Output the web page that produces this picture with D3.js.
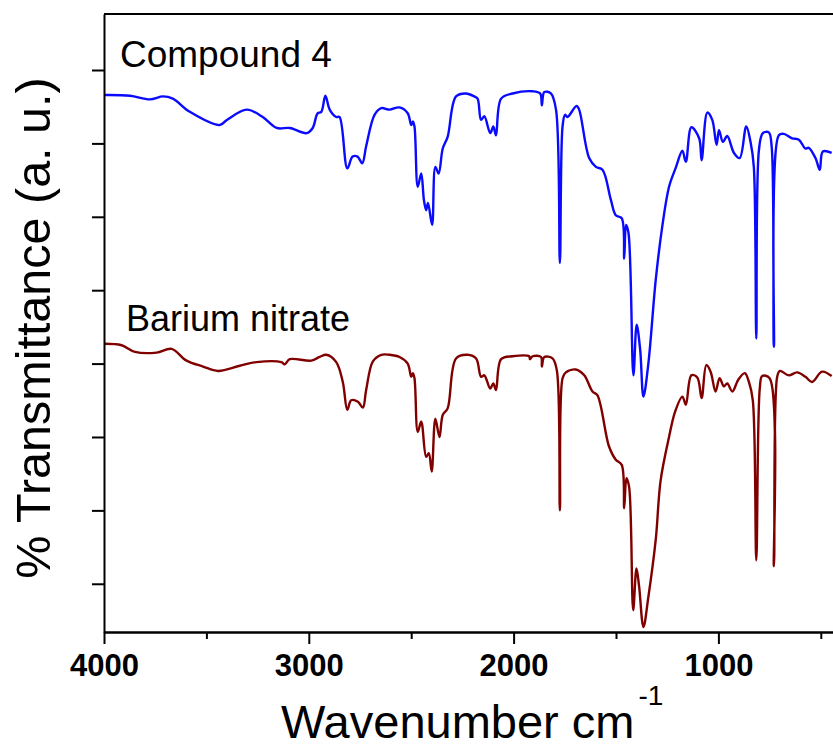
<!DOCTYPE html>
<html>
<head>
    <title>FTIR spectra</title>
    <script src="https://cdnjs.cloudflare.com/ajax/libs/d3/7.8.5/d3.min.js"></script>
    <style>
        body { margin: 0; background: #fff; }
        text { font-family: "Liberation Sans", Arial, sans-serif; }
    </style>
</head>
<body>
    <div id="vis"></div>

    <script>
        // wavenumber (cm-1) and transmittance (a.u.)
        var wnCompound = [3995, 3873, 3776, 3712, 3664, 3581, 3435, 3400, 3303, 3225, 3157, 3093, 3010, 2981, 2957, 2939,
            2919, 2898, 2866, 2850, 2812, 2786, 2762, 2739, 2720, 2679, 2646, 2606, 2557, 2517, 2500, 2492, 2484, 2468,
            2451, 2438, 2427, 2418, 2398, 2382, 2366, 2346, 2322, 2281, 2232, 2192, 2176, 2159, 2143, 2114, 2099, 2086,
            2061, 2005, 1907, 1870, 1862, 1850, 1818, 1793, 1774, 1761, 1749, 1737, 1693, 1680, 1631, 1598, 1566, 1525,
            1501, 1472, 1460, 1451, 1439, 1415, 1399, 1382, 1366, 1342, 1306, 1274, 1241, 1208, 1176, 1159, 1132, 1094,
            1082, 1054, 1030, 1009, 997, 978, 957, 924, 896, 864, 843, 827, 815, 802, 783, 754, 740, 729, 705, 681, 640,
            607, 575, 559, 526, 505, 490, 447];
        var tCompound = [7.66, 7.65, 7.60, 7.64, 7.61, 7.43, 7.25, 7.32, 7.46, 7.36, 7.21, 7.21, 7.14, 7.21, 7.41, 7.43,
            7.65, 7.46, 7.36, 7.36, 6.66, 6.82, 6.82, 6.73, 6.96, 7.39, 7.48, 7.46, 7.49, 7.41, 7.25, 7.30, 7.23, 6.41,
            6.59, 6.23, 6.09, 6.19, 5.89, 6.68, 6.59, 6.93, 7.09, 7.64, 7.68, 7.64, 7.61, 7.32, 7.37, 7.14, 7.23, 7.11,
            7.61, 7.68, 7.71, 7.68, 7.52, 7.70, 7.68, 7.46, 5.37, 7.23, 7.39, 7.36, 7.51, 7.46, 6.80, 6.68, 6.64, 6.23,
            6.02, 5.98, 5.43, 5.89, 5.78, 3.84, 4.53, 4.19, 3.55, 4.00, 5.14, 5.87, 6.41, 6.67, 6.90, 6.75, 7.22, 7.07,
            6.77, 7.42, 7.32, 6.98, 7.18, 7.02, 7.10, 6.87, 6.80, 7.23, 7.02, 6.68, 4.34, 6.91, 7.14, 7.15, 6.96, 4.23,
            7.11, 7.13, 7.07, 7.05, 6.93, 6.94, 6.80, 6.64, 6.89, 6.87];

        var wnBarium = [3995, 3914, 3849, 3743, 3670, 3597, 3516, 3443, 3337, 3256, 3134, 3118, 3093, 2988, 2947, 2914,
            2866, 2834, 2812, 2793, 2760, 2736, 2720, 2687, 2646, 2606, 2557, 2517, 2500, 2492, 2484, 2468, 2451, 2427,
            2414, 2400, 2382, 2362, 2346, 2322, 2281, 2224, 2183, 2159, 2143, 2114, 2099, 2086, 2061, 2005, 1924, 1920,
            1907, 1866, 1862, 1850, 1810, 1789, 1774, 1761, 1745, 1696, 1655, 1615, 1591, 1534, 1501, 1472, 1460, 1449,
            1436, 1416, 1400, 1387, 1366, 1342, 1306, 1282, 1241, 1212, 1176, 1159, 1132, 1103, 1082, 1059, 1038, 1014,
            994, 973, 957, 932, 903, 871, 851, 832, 815, 798, 786, 750, 729, 713, 700, 656, 616, 575, 543, 494, 447];
        var tBarium = [4.27, 4.25, 4.16, 4.15, 4.20, 4.04, 3.96, 3.90, 3.97, 4.02, 4.02, 3.99, 4.06, 4.04, 4.09, 4.12,
            4.02, 3.75, 3.37, 3.50, 3.48, 3.40, 3.64, 4.03, 4.12, 4.12, 4.09, 4.00, 3.82, 3.87, 3.80, 3.07, 3.21, 2.73,
            2.78, 2.53, 3.25, 3.00, 3.30, 3.39, 4.07, 4.12, 4.07, 3.82, 3.84, 3.66, 3.73, 3.64, 4.06, 4.10, 4.10, 4.06,
            4.10, 4.09, 3.96, 4.09, 4.07, 3.91, 2.00, 3.80, 3.88, 3.92, 3.84, 3.62, 3.57, 2.87, 2.69, 2.62, 2.03, 2.44,
            2.32, 0.64, 1.21, 0.96, 0.41, 0.82, 1.60, 2.41, 3.00, 3.34, 3.55, 3.44, 3.84, 3.81, 3.53, 3.98, 3.89, 3.62,
            3.80, 3.69, 3.73, 3.62, 3.78, 3.87, 3.75, 3.50, 1.32, 3.66, 3.83, 3.80, 1.24, 3.82, 3.90, 3.84, 3.88, 3.82,
            3.75, 3.89, 3.83];

        var seriesNames = ["Compound 4", "Barium nitrate"];
        var majorTicks = [4000, 3000, 2000, 1000];
        var minorTicks = [3500, 2500, 1500, 500];
        var yTicks = [1, 2, 3, 4, 5, 6, 7, 8];

        var width = 833, height = 749;
        var plotLeft = 104, plotTop = 14, plotBottom = 632;

        var svg = d3.select("#vis").append("svg")
            .attr("width", width)
            .attr("height", height);

        var x = d3.scaleLinear().domain([4000, 400]).range([plotLeft, plotLeft + 3600 * 0.2048]);
        var y = d3.scaleLinear().domain([0.343, 8.763]).range([plotBottom, plotTop]);

        var line = d3.line()
            .curve(d3.curveCatmullRom.alpha(0.5))
            .x(function(d) { return x(d[0]); })
            .y(function(d) { return y(d[1]); });

        var compound = d3.zip(wnCompound, tCompound);
        var barium = d3.zip(wnBarium, tBarium);

        svg.append("path")
            .datum(barium)
            .attr("d", line)
            .attr("fill", "none")
            .attr("stroke", "#800000")
            .attr("stroke-width", 2.4)
            .attr("stroke-linejoin", "round");

        svg.append("path")
            .datum(compound)
            .attr("d", line)
            .attr("fill", "none")
            .attr("stroke", "#0a0aff")
            .attr("stroke-width", 2.4)
            .attr("stroke-linejoin", "round");

        // axes
        var xAxis = svg.append("g")
            .attr("transform", "translate(0," + plotBottom + ")")
            .call(d3.axisBottom(x).tickValues(majorTicks).tickSize(12).tickSizeOuter(0)
                .tickPadding(10).tickFormat(d3.format("d")));
        svg.append("g")
            .attr("transform", "translate(0," + plotBottom + ")")
            .call(d3.axisBottom(x).tickValues(minorTicks).tickSize(7).tickSizeOuter(0).tickFormat(""));
        svg.append("g")
            .attr("transform", "translate(" + plotLeft + ",0)")
            .call(d3.axisLeft(y).tickValues(yTicks).tickSize(12).tickSizeOuter(0).tickFormat(""));

        svg.append("line")
            .attr("x1", plotLeft).attr("x2", x.range()[1])
            .attr("y1", plotTop).attr("y2", plotTop)
            .attr("stroke", "#000").attr("stroke-width", 2);

        svg.selectAll(".domain, .tick line")
            .attr("stroke", "#000")
            .attr("stroke-width", 2);

        xAxis.selectAll(".tick text")
            .attr("font-size", 31)
            .attr("font-weight", "bold")
            .attr("fill", "#000")
            .style("font-family", "'Liberation Sans', Arial, sans-serif");

        // labels
        svg.append("text")
            .attr("x", 120).attr("y", 67)
            .attr("font-size", 37)
            .text(seriesNames[0]);
        svg.append("text")
            .attr("x", 126).attr("y", 331)
            .attr("font-size", 36)
            .text(seriesNames[1]);

        var xt = svg.append("text")
            .attr("x", 281).attr("y", 738)
            .attr("font-size", 47);
        xt.append("tspan").text("Wavenumber cm");
        xt.append("tspan").attr("font-size", 28).attr("dy", -33).attr("dx", 4).text("-1");

        svg.append("text")
            .attr("transform", "translate(50,328) rotate(-90)")
            .attr("text-anchor", "middle")
            .attr("font-size", 48.5)
            .text("% Transmittance (a. u.)");
    </script>
</body>
</html>
